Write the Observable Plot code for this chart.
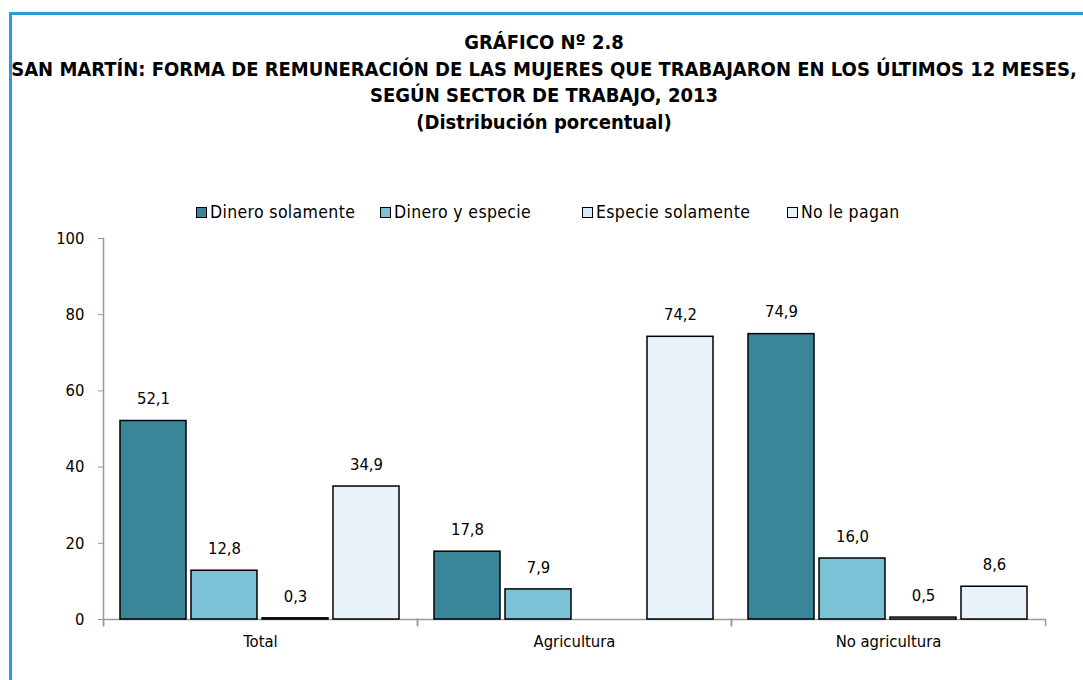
<!DOCTYPE html>
<html>
<head>
<meta charset="utf-8">
<script src="https://cdn.jsdelivr.net/npm/d3@7"></script>
<script src="https://cdn.jsdelivr.net/npm/@observablehq/plot@0.6"></script>
<style>
  html, body { margin: 0; padding: 0; background: #fff; }
  #wrap { position: relative; width: 1083px; height: 680px; overflow: hidden; background: #fff;
    font-family: "DejaVu Sans Condensed", "Liberation Sans", sans-serif; color: #000; }
  #border { position: absolute; left: 9px; top: 12px; width: 1200px; height: 800px;
    border-left: 3px solid #2a9dd6; border-top: 3px solid #2a9dd6; box-sizing: border-box; }
  #title { position: absolute; left: 0; width: 1088px; top: 29px; text-align: center;
    font-weight: bold; font-size: 20px; line-height: 26.5px; white-space: nowrap; }
  #legend { position: absolute; top: 202px; left: 0; width: 1083px; height: 20px; font-size: 17.5px; line-height: 20px; letter-spacing: 0.35px; }
  #legend .item { position: absolute; top: 0; display: flex; align-items: center; white-space: nowrap; }
  #legend .sw { width: 11px; height: 11px; border: 1.5px solid #000; margin-right: 3px; box-sizing: border-box; }
  #chart { position: absolute; top: 225px; left: 0; }
</style>
</head>
<body>
<div id="wrap">
  <div id="border"></div>
  <div id="title">
    <div>GRÁFICO Nº 2.8</div>
    <div>SAN MARTÍN: FORMA DE REMUNERACIÓN DE LAS MUJERES QUE TRABAJARON EN LOS ÚLTIMOS 12 MESES,</div>
    <div>SEGÚN SECTOR DE TRABAJO, 2013</div>
    <div>(Distribución porcentual)</div>
  </div>
  <div id="legend"></div>
  <div id="chart"></div>
</div>
<script>
const groups = ["Total", "Agricultura", "No agricultura"];
const series = ["Dinero solamente", "Dinero y especie", "Especie solamente", "No le pagan"];
const dineroSolamente = [52.1, 17.8, 74.9];
const dineroYEspecie = [12.8, 7.9, 16.0];
const especieSolamente = [0.3, null, 0.5];
const noLePagan = [34.9, 74.2, 8.6];
const colors = ["#3a8597", "#7bc2d6", "#d5eaf3", "#e8f3f9"];
const yTicks = [0, 20, 40, 60, 80, 100];

// layout (legend item left edges, px)
const legendLefts = [196, 380, 582, 787];

const valuesBySeries = [dineroSolamente, dineroYEspecie, especieSolamente, noLePagan];
const table = groups.flatMap((g, i) =>
  series.map((s, j) => ({ group: g, series: s, value: valuesBySeries[j][i] }))
).filter(d => d.value != null);

const fmt = d3.formatLocale({ decimal: ",", thousands: ".", grouping: [3], currency: ["", ""] }).format(".1f");
const fontFamily = '"DejaVu Sans Condensed", "Liberation Sans", sans-serif';

// legend
const legend = document.getElementById("legend");
series.forEach((s, i) => {
  const item = document.createElement("div");
  item.className = "item";
  item.style.left = legendLefts[i] + "px";
  const sw = document.createElement("span");
  sw.className = "sw";
  sw.style.background = colors[i];
  const t = document.createElement("span");
  t.textContent = s;
  item.appendChild(sw);
  item.appendChild(t);
  legend.appendChild(item);
});

const chart = Plot.plot({
  width: 1083,
  height: 455,
  marginLeft: 102,
  marginRight: 37,
  marginTop: 13,
  marginBottom: 55,
  fx: { domain: groups, padding: 0, label: null },
  x: { domain: series, paddingInner: 0.07, paddingOuter: 0.23, axis: null },
  y: { domain: [0, 100], range: [394, 13] },
  color: { domain: series, range: colors },
  style: { fontFamily, fontSize: "16px", background: "transparent", color: "#000" },
  marks: [
    Plot.ruleY([0], { stroke: "#9a9a9a", strokeWidth: 1.5 }),
    Plot.frame({ anchor: "left", facetAnchor: "left", stroke: "#9a9a9a", strokeWidth: 1.5 }),
    Plot.frame({ anchor: "left", insetTop: 381, stroke: "#9a9a9a", strokeWidth: 1.5 }),
    Plot.frame({ anchor: "right", insetTop: 381, stroke: "#9a9a9a", strokeWidth: 1.5 }),
    Plot.barY(table, { fx: "group", x: "series", y: "value", fill: "series", stroke: "#000", strokeWidth: 1.5 }),
    Plot.text(table, { fx: "group", x: "series", y: "value", text: d => fmt(d.value), dy: -22, fontSize: 16.5, fill: "#000" }),
    Plot.axisY({ ticks: yTicks, tickSize: 5, tickPadding: 14, fontSize: 16.5, stroke: "#9a9a9a", fill: "#000", label: null }),
    Plot.axisFx({ anchor: "bottom", tickSize: 0, tickPadding: 10, fontSize: 16.5, fill: "#000", label: null })
  ]
});
document.getElementById("chart").appendChild(chart);
</script>
</body>
</html>
